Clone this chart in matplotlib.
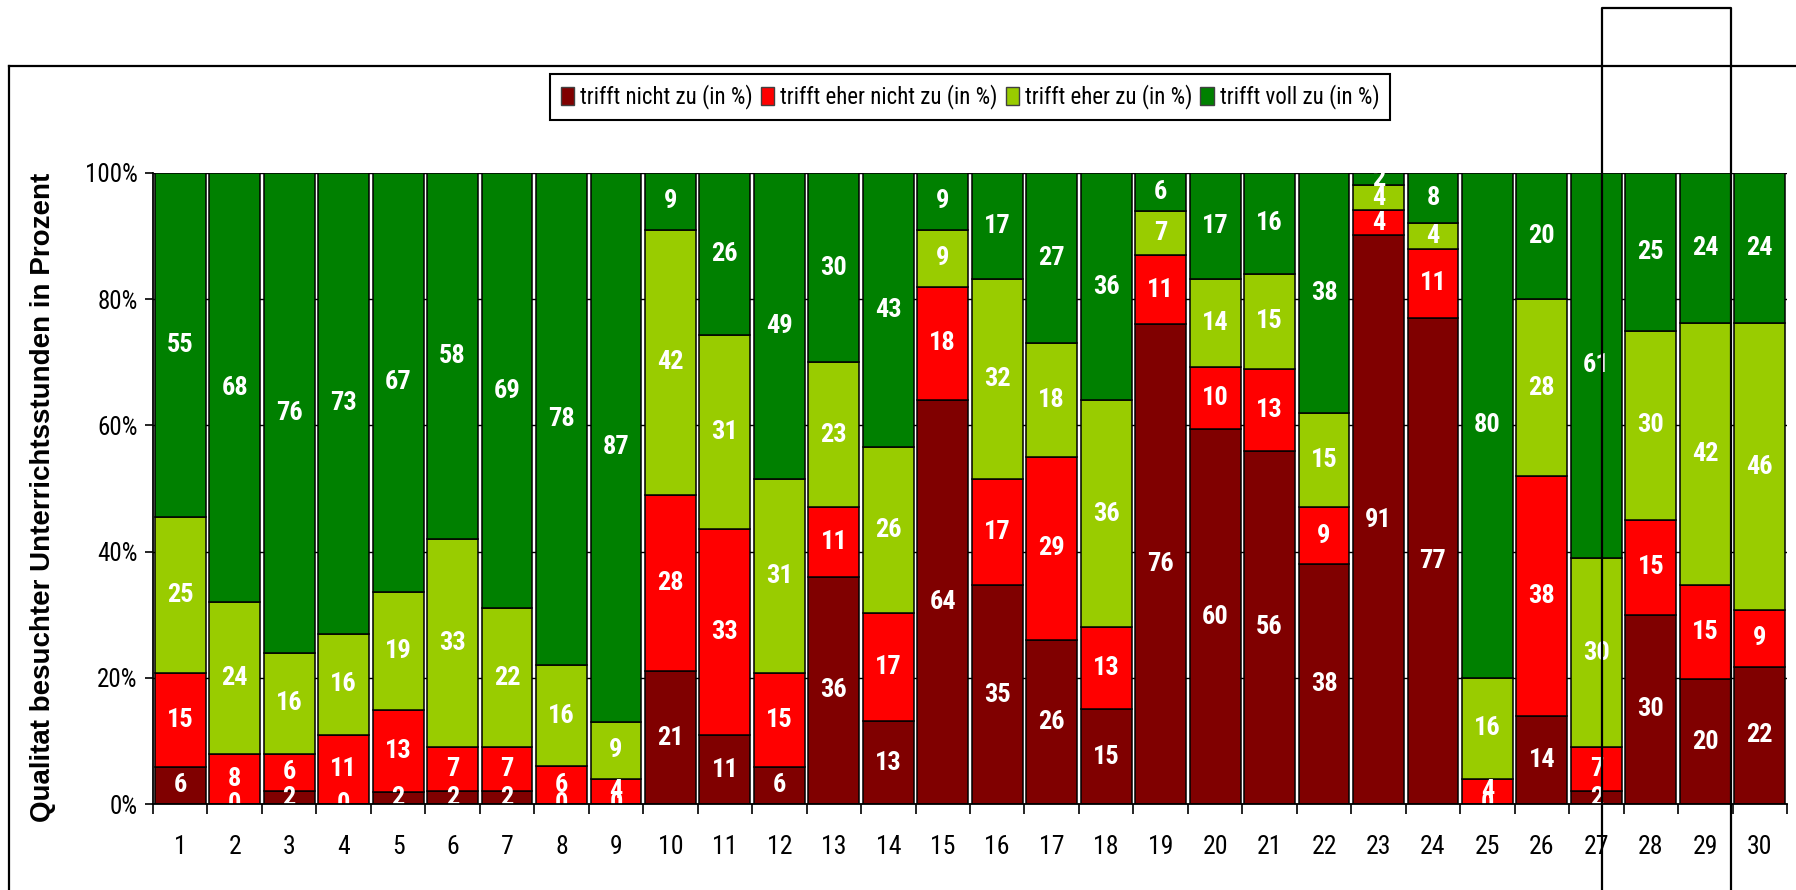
import numpy as np
import matplotlib
matplotlib.use("Agg")
import matplotlib.pyplot as plt
from matplotlib.patches import Patch
from matplotlib.lines import Line2D

# answers per lesson (raw percentages as rated)
lessons = [str(i) for i in range(1, 31)]
nicht_zu = [6, 0, 2, 0, 2, 2, 2, 0, 0, 21, 11, 6, 36, 13, 64,
            35, 26, 15, 76, 60, 56, 38, 91, 77, 0, 14, 2, 30, 20, 22]
eher_nicht_zu = [15, 8, 6, 11, 13, 7, 7, 6, 4, 28, 33, 15, 11, 17, 18,
                 17, 29, 13, 11, 10, 13, 9, 4, 11, 4, 38, 7, 15, 15, 9]
eher_zu = [25, 24, 16, 16, 19, 33, 22, 16, 9, 42, 31, 31, 23, 26, 9,
           32, 18, 36, 7, 14, 15, 15, 4, 4, 16, 28, 30, 30, 42, 46]
voll_zu = [55, 68, 76, 73, 67, 58, 69, 78, 87, 9, 26, 49, 30, 43, 9,
           17, 27, 36, 6, 17, 16, 38, 2, 8, 80, 20, 61, 25, 24, 24]

series_names = ["trifft nicht zu (in %)", "trifft eher nicht zu (in %)",
                "trifft eher zu (in %)", "trifft voll zu (in %)"]
colors = ["#800000", "#FF0000", "#99CC00", "#008000"]
y_ticks = [0, 20, 40, 60, 80, 100]

NARROW = ["Roboto Condensed", "Liberation Sans", "DejaVu Sans"]
W, H = 1796, 890

fig = plt.figure(figsize=(W / 100, H / 100), dpi=100)
ax = fig.add_axes([153 / W, 1 - 804 / H, (1787 - 153) / W, (804 - 173) / H])

data = np.array([nicht_zu, eher_nicht_zu, eher_zu, voll_zu], dtype=float)
totals = data.sum(axis=0)
shares = data / totals * 100  # 100% stacked
x = np.arange(len(lessons))

bottom = np.zeros(len(lessons))
for vals, share, col in zip(data, shares, colors):
    ax.bar(x, share, bottom=bottom, width=0.935, color=col,
           edgecolor="black", linewidth=1.1, zorder=2)
    for xi, v, b, s in zip(x, vals, bottom, share):
        ax.text(xi, b + s / 2, f"{int(v)}", ha="center", va="center",
                color="white", fontsize=19, fontweight="bold",
                family=NARROW, clip_on=True, zorder=3)
    bottom += share

ax.set_xlim(-0.5, len(lessons) - 0.5)
ax.set_ylim(0, 100)
ax.set_yticks(y_ticks)
ax.set_yticklabels([f"{t}%" for t in y_ticks], family=NARROW, fontsize=18)
ax.tick_params(axis="y", direction="out", length=6, width=1.2, pad=5)

# boundary ticks below, labels centred on each bar
ax.set_xticks(np.arange(len(lessons) + 1) - 0.5)
ax.set_xticklabels([])
ax.set_xticks(x, minor=True)
ax.set_xticklabels(lessons, minor=True, family=NARROW, fontsize=18.5)
ax.tick_params(axis="x", which="major", direction="out", length=7, width=1.2)
ax.tick_params(axis="x", which="minor", length=0, pad=22)

ax.grid(axis="y", color="black", linewidth=1.0, zorder=0)
ax.set_axisbelow(True)
for side in ("top", "right"):
    ax.spines[side].set_visible(False)
for side in ("left", "bottom"):
    ax.spines[side].set_linewidth(1.3)
    ax.spines[side].set_zorder(4)

fig.text(43 / W, 1 - 497 / H, "Qualitat besuchter Unterrichtsstunden in Prozent",
         rotation=90, ha="center", va="center", fontsize=20,
         fontweight="bold", family=["Liberation Sans", "DejaVu Sans"])

handles = [Patch(facecolor=c, edgecolor="#404040", linewidth=1.0) for c in colors]
leg = fig.legend(handles, series_names, loc="center",
                 bbox_to_anchor=(970 / W, 1 - 97 / H), ncol=4, frameon=True,
                 fancybox=False, edgecolor="black", framealpha=1,
                 prop={"family": NARROW, "size": 16.5},
                 handlelength=0.6, handleheight=0.85, handletextpad=0.25,
                 columnspacing=0.35, borderpad=0.45, borderaxespad=0)
leg.get_frame().set_linewidth(1.5)

# outer chart frame (runs off the right and bottom edges)
fig.add_artist(Line2D([9 / W, 1], [1 - 66 / H, 1 - 66 / H], color="black",
                      linewidth=1.6, transform=fig.transFigure))
fig.add_artist(Line2D([9 / W, 9 / W], [1 - 66 / H, 0], color="black",
                      linewidth=1.6, transform=fig.transFigure))

# highlight box around lessons 28-29
box_x = [1602 / W, 1602 / W, 1731 / W, 1731 / W]
box_y = [0, 1 - 8 / H, 1 - 8 / H, 0]
fig.add_artist(Line2D(box_x, box_y, color="black", linewidth=1.6,
                      transform=fig.transFigure, zorder=10))

fig.savefig("out.png", dpi=100)
